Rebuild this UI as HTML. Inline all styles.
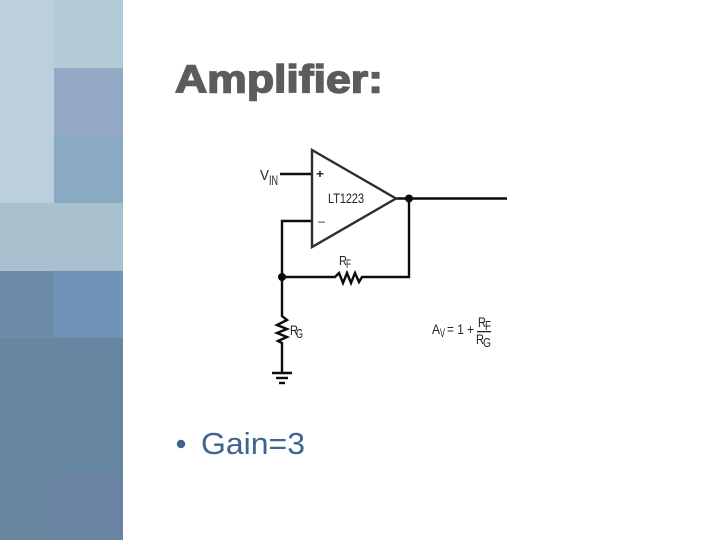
<!DOCTYPE html>
<html>
<head>
<meta charset="utf-8">
<style>
html,body{margin:0;padding:0;background:#fff;}
body{width:720px;height:540px;overflow:hidden;}
svg{display:block;}
text{font-family:"Liberation Sans",sans-serif;}
</style>
</head>
<body>
<svg width="720" height="540" viewBox="0 0 720 540" xmlns="http://www.w3.org/2000/svg">
<rect width="720" height="540" fill="#fff"/>
<!-- left panel -->
<rect x="0" y="0" width="54" height="204" fill="#bbd0dc"/>
<rect x="54" y="0" width="69" height="68" fill="#b3cad7"/>
<rect x="54" y="68" width="69" height="67" fill="#93a9c6"/>
<rect x="54" y="135" width="69" height="68" fill="#8aa9c3"/>
<rect x="0" y="203" width="123" height="68" fill="#a9c0cf"/>
<rect x="0" y="271" width="54" height="68" fill="#6b8ba6"/>
<rect x="54" y="271" width="69" height="67" fill="#7094b7"/>
<rect x="0" y="338" width="123" height="202" fill="#66879f"/>
<rect x="54" y="473" width="69" height="67" fill="#6b83a3"/>
<!-- title -->
<text x="175" y="92.5" font-size="39" font-weight="bold" fill="#5c5c5c" stroke="#5c5c5c" stroke-width="1.5" textLength="208" lengthAdjust="spacingAndGlyphs">Amplifier:</text>
<!-- bullet -->
<circle cx="181" cy="444" r="4.2" fill="#3d6590"/>
<text x="201" y="454" font-size="31" fill="#3d6590" textLength="104" lengthAdjust="spacingAndGlyphs">Gain=3</text>
<!-- circuit -->
<g fill="none" stroke="#0c0c0c" stroke-width="2.4">
<path d="M280 174H312"/>
<path d="M312 221H282V316L287 320L277 325L287 329L277 333L287 337L278 341L282 343V372"/>
<path d="M396 198.5H507"/>
<path d="M409 198.5V277H362L359 282L355 273L351 283L347 273L343 283L339 273L335 277H282"/>
<path d="M272 373H292"/>
<path d="M276 378H288"/>
<path d="M279 383H285"/>
</g>
<polygon points="312,150 396,198.5 312,247" fill="#fff" stroke="#2e2e2e" stroke-width="2.4"/>
<circle cx="409" cy="198.5" r="4" fill="#0c0c0c"/>
<circle cx="282" cy="277" r="4" fill="#0c0c0c"/>
<!-- labels -->
<g fill="#222">
<text x="260" y="180" font-size="15" textLength="9" lengthAdjust="spacingAndGlyphs">V</text>
<text x="269" y="185" font-size="14" textLength="9" lengthAdjust="spacingAndGlyphs">IN</text>
<text x="316" y="178" font-size="12" font-weight="bold" textLength="8" lengthAdjust="spacingAndGlyphs">+</text>
<text x="318" y="225" font-size="12" textLength="7" lengthAdjust="spacingAndGlyphs">–</text>
<text x="328" y="203" font-size="14" textLength="36" lengthAdjust="spacingAndGlyphs">LT1223</text>
<text x="339" y="265" font-size="13" textLength="8" lengthAdjust="spacingAndGlyphs">R</text>
<text x="346" y="268" font-size="12" textLength="5" lengthAdjust="spacingAndGlyphs">F</text>
<text x="290" y="335" font-size="14" textLength="8" lengthAdjust="spacingAndGlyphs">R</text>
<text x="296" y="338" font-size="13" textLength="7" lengthAdjust="spacingAndGlyphs">G</text>
<text x="432" y="334" font-size="14" textLength="8" lengthAdjust="spacingAndGlyphs">A</text>
<text x="440" y="337" font-size="12" textLength="5" lengthAdjust="spacingAndGlyphs">V</text>
<text x="447" y="334" font-size="14" textLength="27" lengthAdjust="spacingAndGlyphs">= 1 +</text>
<text x="478" y="327" font-size="14" textLength="8" lengthAdjust="spacingAndGlyphs">R</text>
<text x="485" y="330" font-size="13" textLength="6" lengthAdjust="spacingAndGlyphs">F</text>
<rect x="477" y="331" width="14" height="1.3"/>
<text x="476" y="344" font-size="14" textLength="8" lengthAdjust="spacingAndGlyphs">R</text>
<text x="483" y="347" font-size="13" textLength="8" lengthAdjust="spacingAndGlyphs">G</text>
</g>
</svg>
</body>
</html>
